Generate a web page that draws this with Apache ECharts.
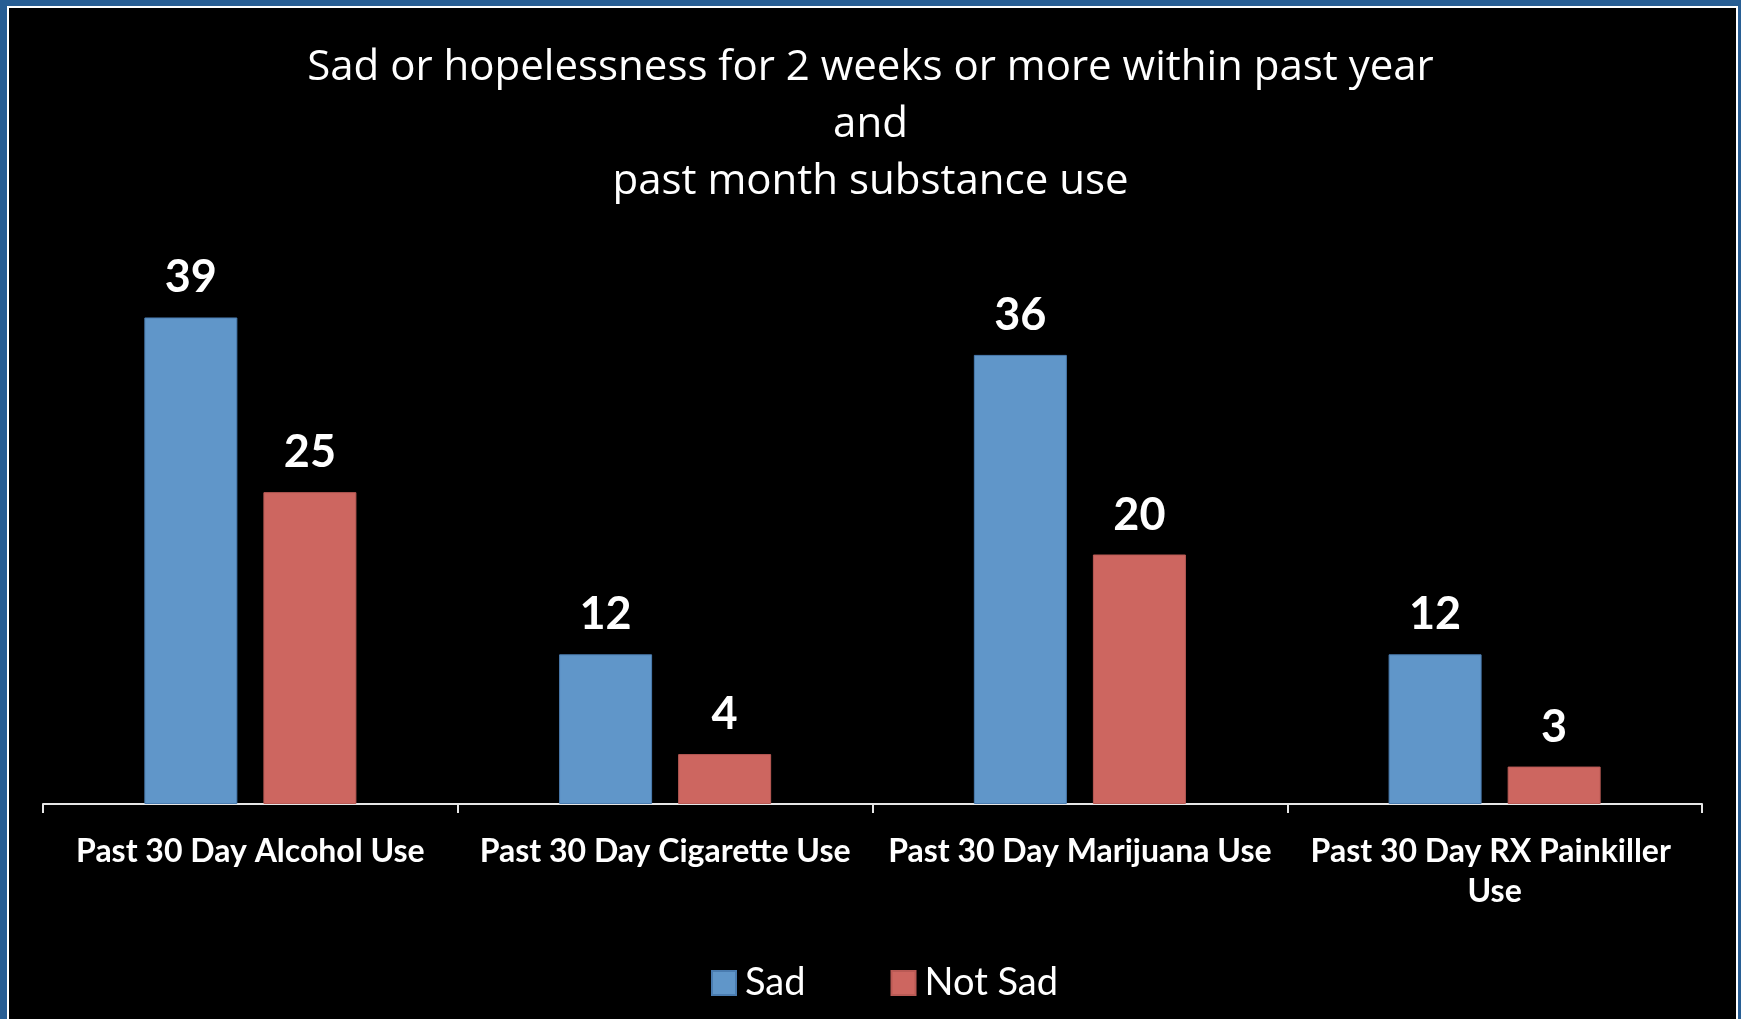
<!DOCTYPE html>
<html>
<head>
<meta charset="utf-8">
<script src="https://cdn.jsdelivr.net/npm/echarts@6/dist/echarts.min.js"></script>
<style>
  html, body { margin: 0; padding: 0; width: 1741px; height: 1019px; overflow: hidden; background: #285e94; }
  #frame { position: absolute; left: 7px; top: 6px; width: 1731px; height: 1100px; box-sizing: border-box; border: 2px solid #ffffff; background: #000000; }
  #chart { position: absolute; left: 0; top: 0; width: 1741px; height: 1019px; }
</style>
</head>
<body>
<div id="frame"></div>
<div id="chart"></div>
<script>
const titleLines = [
  'Sad or hopelessness for 2 weeks or more within past year',
  'and',
  'past month substance use'
];
const categories = [
  'Past 30 Day Alcohol Use',
  'Past 30 Day Cigarette Use',
  'Past 30 Day Marijuana Use',
  'Past 30 Day RX Painkiller Use'
];
const seriesNames = ['Sad', 'Not Sad'];
const sadValues = [39, 12, 36, 12];
const notSadValues = [25, 4, 20, 3];

const FONT = 'Lato, "Open Sans", sans-serif';
const TITLE_FONT = '"Open Sans", Lato, sans-serif';
const chart = echarts.init(document.getElementById('chart'), null, { renderer: 'canvas' });

const labelStyle = {
  show: true,
  position: 'top',
  distance: 17,
  color: '#ffffff',
  fontFamily: FONT,
  fontWeight: 'bold',
  fontSize: 45
};

chart.setOption({
  backgroundColor: 'transparent',
  animation: false,
  title: {
    text: titleLines.join('\n'),
    left: 'center',
    top: 40,
    padding: 0,
    textStyle: {
      color: '#ffffff',
      fontFamily: TITLE_FONT,
      fontWeight: 'normal',
      fontSize: 42,
      lineHeight: 57
    }
  },
  legend: {
    data: seriesNames,
    left: 711,
    top: 964,
    padding: 0,
    itemWidth: 24,
    itemHeight: 24,
    itemGap: 85,
    icon: 'rect',
    textStyle: {
      color: '#ffffff',
      fontFamily: FONT,
      fontSize: 38,
      padding: [0, 0, 0, 4]
    }
  },
  grid: {
    left: 43,
    right: 39,
    top: 305,
    bottom: 215,
    containLabel: false
  },
  xAxis: {
    type: 'category',
    data: categories,
    axisLine: { show: true, lineStyle: { color: '#e6e6e6', width: 2 } },
    axisTick: { show: true, length: 9, lineStyle: { color: '#e6e6e6', width: 2 } },
    axisLabel: {
      color: '#ffffff',
      fontFamily: FONT,
      fontWeight: 'bold',
      fontSize: 32,
      lineHeight: 40,
      margin: 28,
      interval: 0,
      width: 400,
      overflow: 'break'
    }
  },
  yAxis: {
    type: 'value',
    min: 0,
    max: 40,
    show: false,
    splitLine: { show: false }
  },
  series: [
    {
      name: seriesNames[0],
      type: 'bar',
      data: sadValues,
      barWidth: 93,
      barGap: '28%',
      itemStyle: { color: '#6096c9', borderColor: '#4a7cb0', borderWidth: 1 },
      label: labelStyle
    },
    {
      name: seriesNames[1],
      type: 'bar',
      data: notSadValues,
      barWidth: 93,
      barGap: '28%',
      itemStyle: { color: '#cd6660', borderColor: '#b95a55', borderWidth: 1 },
      label: labelStyle
    }
  ]
});
</script>
</body>
</html>
